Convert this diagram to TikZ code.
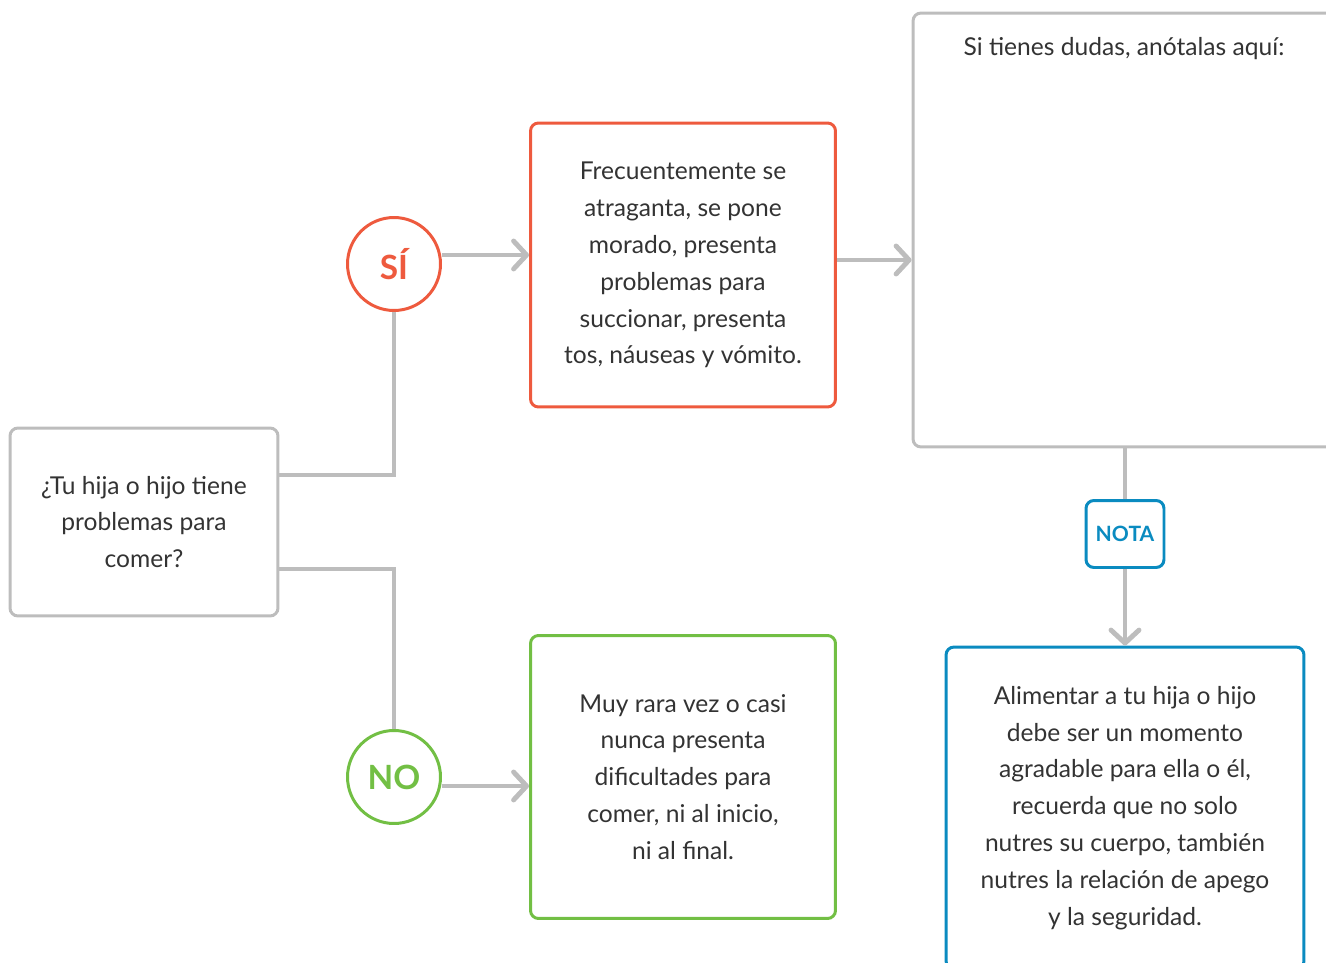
\documentclass[tikz,border=0pt]{standalone}
\usepackage{fontspec}
\setmainfont{Lato}
\usetikzlibrary{arrows.meta}

\definecolor{sired}{HTML}{EE5A3E}
\definecolor{nogreen}{HTML}{72BF44}
\definecolor{notablue}{HTML}{0A8BC0}
\definecolor{linegray}{HTML}{BDBDBD}
\definecolor{txtgray}{HTML}{333333}

\tikzset{
  box/.style={draw=linegray, line width=1.7pt, rounded corners=4.5pt, inner sep=0pt,
    align=center, text=txtgray, font=\fontsize{14}{21}\selectfont},
  answer/.style={circle, draw=#1, line width=1.7pt, fill=white, minimum size=1.86cm,
    inner sep=0pt, text=#1, font=\fontsize{19}{19}\selectfont\bfseries},
  conn/.style={draw=linegray, line width=2.8pt},
  arrow/.style={conn, -{Straight Barb[length=2.6mm, width=5.6mm, round]}}
}

\begin{document}
\begin{tikzpicture}[x=0.02cm, y=-0.02cm]
  % Frame
  \useasboundingbox (0,0) rectangle (1326,963);
  \clip (0,0) rectangle (1326,963);

  % Boxes
  \node[box, minimum width=5.36cm, minimum height=3.76cm] (q) at (144,522)
    {¿Tu hija o hijo tiene\\problemas para\\comer?};
  \node[box, draw=sired, minimum width=6.1cm, minimum height=5.68cm] (red) at (683,265)
    {Frecuentemente se\\atraganta, se pone\\morado, presenta\\problemas para\\succionar, presenta\\tos, náuseas y vómito.};
  \node[box, draw=nogreen, minimum width=6.1cm, minimum height=5.66cm] (green) at (683,777)
    {Muy rara vez o casi\\nunca presenta\\dificultades para\\comer, ni al inicio,\\ni al final.};
  \node[box, minimum width=8.64cm, minimum height=8.68cm] (notes) at (1129,230) {};
  \node[text=txtgray, font=\fontsize{14}{21}\selectfont] (notestitle) at (1124,49)
    {Si tienes dudas, anótalas aquí:};
  \node[box, draw=notablue, minimum width=7.16cm, minimum height=6.44cm] (blue) at (1125,808)
    {Alimentar a tu hija o hijo\\debe ser un momento\\agradable para ella o él,\\recuerda que no solo\\nutres su cuerpo, también\\nutres la relación de apego\\y la seguridad.};

  % Answers
  \node[answer=sired] (si) at (394,264) {SÍ};
  \node[answer=nogreen] (no) at (394,777) {NO};
  \node[box, draw=notablue, minimum width=1.56cm, minimum height=1.34cm, text=notablue,
    font=\fontsize{12}{12}\selectfont\bfseries] (nota) at (1125,534) {NOTA};

  % Connectors
  \draw[conn] (q.east |- 0,475) -| (si.south);
  \draw[conn] (q.east |- 0,569) -| (no.north);
  \coordinate (siout) at ([yshift=0.18cm]si.east);
  \coordinate (noout) at ([yshift=-0.18cm]no.east);
  \coordinate (redout) at ([yshift=0.1cm]red.east);
  \draw[arrow] (siout) -- (siout -| red.west);
  \draw[arrow] (noout) -- (noout -| green.west);
  \draw[arrow] (redout) -- (redout -| notes.west);
  \draw[conn] (nota.north |- notes.south) -- (nota.north);
  \draw[arrow] (nota.south) -- (nota.south |- blue.north);
\end{tikzpicture}
\end{document}
